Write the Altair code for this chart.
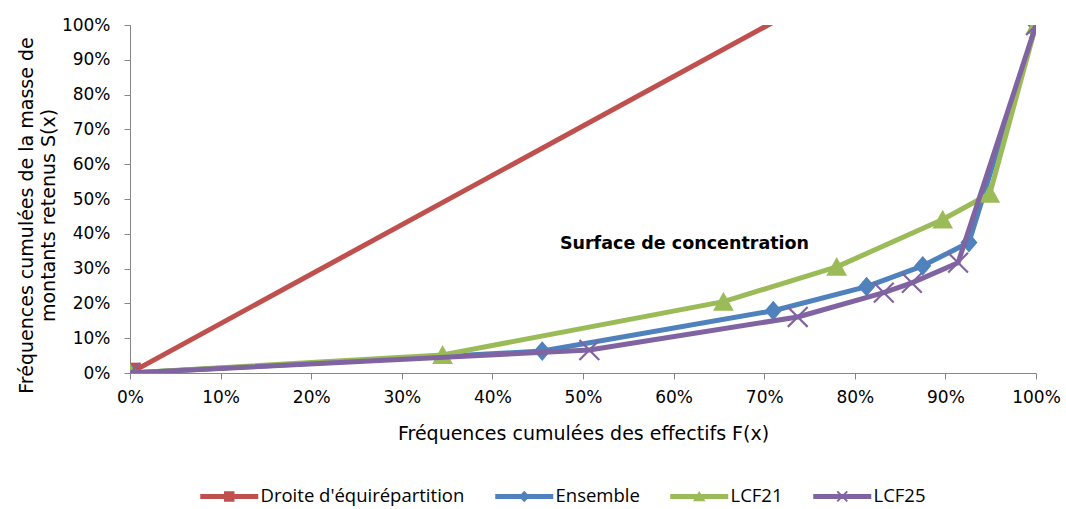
import altair as alt
import pandas as pd

# Cumulative share of counts F(x) and of retained amounts S(x), per series
series_names = ["Droite d'équirépartition", "Ensemble", "LCF21", "LCF25"]
series_colors = ["#C0504D", "#4F81BD", "#9BBB59", "#8064A2"]

droite_f = [0.0, 1.0]
droite_s = [0.0, 1.42]

ensemble_f = [0.0, 0.455, 0.710, 0.813, 0.875, 0.926, 1.0]
ensemble_s = [0.0, 0.063, 0.179, 0.248, 0.308, 0.375, 1.0]

lcf21_f = [0.0, 0.345, 0.655, 0.780, 0.897, 0.949, 1.0]
lcf21_s = [0.0, 0.052, 0.205, 0.305, 0.441, 0.515, 1.0]

lcf25_f = [0.0, 0.507, 0.737, 0.832, 0.863, 0.914, 1.0]
lcf25_s = [0.0, 0.066, 0.161, 0.231, 0.259, 0.317, 1.0]

annot_text = ["Surface de concentration"]
annot_f = [0.612]
annot_s = [0.372]

tick_values = [0.0, 0.1, 0.2, 0.3, 0.4, 0.5, 0.6, 0.7, 0.8, 0.9, 1.0]

x_title = "Fréquences cumulées des effectifs F(x)"
y_title = ["Fréquences cumulées de la masse de", "montants retenus S(x)"]

rows = []
for name, fs, ss in zip(
    series_names,
    [droite_f, ensemble_f, lcf21_f, lcf25_f],
    [droite_s, ensemble_s, lcf21_s, lcf25_s],
):
    for f, s in zip(fs, ss):
        rows.append({"serie": name, "F": f, "S": s})
df = pd.DataFrame(rows)
annot_df = pd.DataFrame({"F": annot_f, "S": annot_s, "label": annot_text})


# ---- marker shapes (unit = sqrt(size)/2 pixels) ----
def poly(points):
    """Closed polygon path, always wound clockwise on screen."""
    area = 0.0
    for (x0, y0), (x1, y1) in zip(points, points[1:] + points[:1]):
        area += x0 * y1 - x1 * y0
    if area < 0:
        points = points[::-1]
    head = "M{:.3f},{:.3f}".format(*points[0])
    tail = "".join("L{:.3f},{:.3f}".format(x, y) for x, y in points[1:])
    return head + tail + "Z"


def bar(xa, ya, xb, yb, half):
    dx, dy = xb - xa, yb - ya
    n = (dx * dx + dy * dy) ** 0.5
    px, py = -dy / n * half, dx / n * half
    return poly([(xa + px, ya + py), (xb + px, yb + py), (xb - px, yb - py), (xa - px, ya - py)])


def square(cx, hw, hh):
    return poly([(cx - hw, -hh), (cx + hw, -hh), (cx + hw, hh), (cx - hw, hh)])


def diamond(cx, hw, hh):
    return poly([(cx, -hh), (cx + hw, 0), (cx, hh), (cx - hw, 0)])


def triangle(cx, hw, top, bottom):
    return poly([(cx, top), (cx + hw, bottom), (cx - hw, bottom)])


def cross(cx, h, half):
    return bar(cx - h, -h, cx + h, h, half) + bar(cx - h, h, cx + h, -h, half)


# plot markers, size 324 -> unit of 9 px
marker_size = 324
marker_paths = [
    square(0, 1.2, 1.15),
    diamond(0, 0.95, 1.1),
    triangle(0, 1.15, -1.1, 1.0),
    cross(0, 1.1, 0.12),
]

# legend keys: a line segment carrying the series marker, unit of 5 px
legend_symbol_size = 100
seg = square(4.8, 5.8, 0.5)
legend_paths = [
    seg + square(4.8, 1.05, 1.05),
    seg + diamond(4.8, 1.1, 1.15),
    seg + triangle(4.8, 1.25, -1.1, 0.95),
    seg + cross(4.8, 1.0, 0.2),
]

axis_grey = "#868686"
x_enc = alt.X(
    "F:Q",
    scale=alt.Scale(domain=[0, 1], nice=False, zero=True),
    axis=alt.Axis(
        values=tick_values,
        format=".0%",
        title=x_title,
        grid=False,
        domainColor=axis_grey,
        tickColor=axis_grey,
        tickSize=6,
        labelPadding=10,
        labelFlush=False,
        titleY=51,
        titleBaseline="top",
    ),
)
y_enc = alt.Y(
    "S:Q",
    scale=alt.Scale(domain=[0, 1], nice=False, zero=True),
    axis=alt.Axis(
        values=tick_values,
        format=".0%",
        title=y_title,
        grid=False,
        domainColor=axis_grey,
        tickColor=axis_grey,
        tickSize=6,
        labelPadding=14,
        labelFlush=False,
        titleX=-94,
        titleY=190,
        titleBaseline="bottom",
        titleLineHeight=22,
    ),
)

base = alt.Chart(df)
layers = []
for name, color, path in zip(series_names, series_colors, marker_paths):
    sub = base.transform_filter(alt.FieldEqualPredicate(field="serie", equal=name))
    layers.append(
        sub.mark_line(color=color, strokeWidth=5, strokeJoin="round", clip=True).encode(
            x=x_enc, y=y_enc
        )
    )
    layers.append(
        sub.mark_point(filled=True, color=color, opacity=1, strokeWidth=0, clip=True).encode(
            x=x_enc, y=y_enc, shape=alt.value(path), size=alt.value(marker_size)
        )
    )

# legend keys come from the fixed scale domains; this layer draws no points
legend_layer = (
    base.transform_filter("false")
    .mark_point(filled=True, opacity=1)
    .encode(
        x=x_enc,
        y=y_enc,
        color=alt.Color(
            "serie:N",
            scale=alt.Scale(domain=series_names, range=series_colors),
            legend=alt.Legend(title=None),
        ),
        shape=alt.Shape(
            "serie:N",
            scale=alt.Scale(domain=series_names, range=legend_paths),
            legend=alt.Legend(title=None),
        ),
    )
)

annot = (
    alt.Chart(annot_df)
    .mark_text(
        font="DejaVu Sans",
        fontSize=17.5,
        fontWeight="bold",
        align="center",
        baseline="middle",
        color="#000000",
    )
    .encode(x=x_enc, y=y_enc, text="label:N")
)

chart = (
    alt.layer(*layers, legend_layer, annot)
    .properties(
        width=906,
        height=348,
        autosize=alt.AutoSizeParams(type="none"),
        padding={"left": 130, "top": 25, "right": 30, "bottom": 136},
        background="white",
    )
    .configure_view(stroke=None)
    .configure_axis(
        labelFont="DejaVu Sans",
        labelFontSize=17,
        labelColor="#000000",
        titleFont="DejaVu Sans",
        titleFontSize=19,
        titleFontWeight="normal",
        titleColor="#000000",
    )
    .configure_legend(
        orient="none",
        legendX=66,
        legendY=462,
        direction="horizontal",
        columns=4,
        labelFont="Open Sans",
        labelFontSize=18.5,
        labelColor="#000000",
        labelLimit=0,
        symbolSize=legend_symbol_size,
        symbolStrokeWidth=0,
        symbolOpacity=1,
        labelOffset=46,
        columnPadding=26,
    )
)

chart.save("out.html", embed_options={"renderer": "svg", "actions": False})
